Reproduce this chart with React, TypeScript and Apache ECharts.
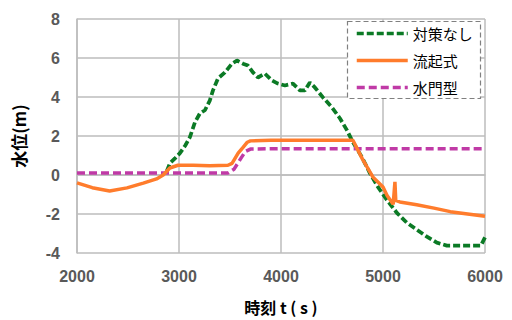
import React, { useEffect, useRef } from "react";
import * as echarts from "echarts";

const seriesNames = ["対策なし", "流起式", "水門型"];

const tNone = [2880, 2911, 2960, 3009, 3060, 3107, 3156, 3205, 3254, 3303, 3333, 3382, 3450, 3519, 3568, 3627, 3676, 3725, 3774, 3842, 3911, 3970, 4038, 4117, 4185, 4234, 4283, 4332, 4411, 4499, 4577, 4646, 4705, 4793, 4871, 4950, 5038, 5136, 5234, 5332, 5430, 5528, 5626, 5750, 5850, 5960, 6000];
const vNone = [0.2, 0.6, 0.85, 1.12, 1.5, 1.94, 2.7, 3.16, 3.32, 3.83, 4.34, 4.95, 5.26, 5.71, 5.87, 5.71, 5.61, 5.26, 5.0, 5.2, 4.85, 4.69, 4.59, 4.69, 4.34, 4.34, 4.74, 4.49, 3.98, 3.47, 2.91, 2.3, 1.68, 0.92, 0.1, -0.61, -1.28, -1.94, -2.45, -2.81, -3.16, -3.47, -3.62, -3.62, -3.62, -3.62, -3.2];

const tFlow = [2000, 2150, 2320, 2490, 2650, 2780, 2845, 2910, 2990, 3140, 3300, 3480, 3520, 3580, 3630, 3670, 3700, 3900, 4200, 4500, 4705, 4800, 4900, 5000, 5040, 5100, 5117, 5125, 5165, 5330, 5500, 5660, 5830, 6000];
const vFlow = [-0.4, -0.65, -0.82, -0.66, -0.42, -0.2, 0, 0.36, 0.5, 0.5, 0.48, 0.5, 0.6, 1.12, 1.43, 1.68, 1.75, 1.78, 1.78, 1.78, 1.78, 0.8, -0.1, -0.62, -1.05, -1.5, -0.35, -1.3, -1.38, -1.53, -1.7, -1.88, -2.0, -2.12];

const tGate = [2000, 2500, 3000, 3480, 3540, 3600, 3650, 3700, 4000, 5000, 6000];
const vGate = [0.1, 0.1, 0.1, 0.1, 0.3, 0.8, 1.2, 1.33, 1.35, 1.35, 1.35];

const xTicks = [2000, 3000, 4000, 5000, 6000];
const yTicks = [-4, -2, 0, 2, 4, 6, 8];

const zip = (t: number[], v: number[]) => t.map((x, i) => [x, v[i]]);

export default function App() {
  const ref = useRef<HTMLDivElement>(null);
  useEffect(() => {
    if (!ref.current) return;
    const chart = echarts.init(ref.current, null, { renderer: "svg" });
    const gridColor = "#bdbdbd";
    const tickFont = {
      fontFamily: "Liberation Sans, Arial, sans-serif",
      fontWeight: "bold" as const,
      fontSize: 16,
      color: "#595959",
    };
    chart.setOption({
      animation: false,
      backgroundColor: "#ffffff",
      grid: { left: 77, right: 27, top: 19, bottom: 65, containLabel: false },
      xAxis: {
        type: "value",
        min: xTicks[0],
        max: xTicks[xTicks.length - 1],
        interval: 1000,
        name: "時刻 t ( s )",
        nameLocation: "middle",
        nameGap: 46,
        nameTextStyle: {
          fontFamily: "Noto Sans CJK JP, sans-serif",
          fontWeight: "bold",
          fontSize: 16,
          color: "#000",
        },
        axisLine: { show: true, lineStyle: { color: gridColor, width: 1.5 } },
        axisTick: { show: false },
        axisLabel: { ...tickFont, margin: 15, formatter: (v: number) => String(v) },
        splitLine: { show: true, lineStyle: { color: gridColor, width: 1.5 } },
      },
      yAxis: {
        type: "value",
        min: yTicks[0],
        max: yTicks[yTicks.length - 1],
        interval: 2,
        name: "水位(m)",
        nameLocation: "middle",
        nameRotate: 90,
        nameGap: 50,
        nameTextStyle: {
          fontFamily: "Noto Sans CJK JP, sans-serif",
          fontWeight: "bold",
          fontSize: 17,
          color: "#000",
        },
        axisLine: { show: true, lineStyle: { color: gridColor, width: 1.5 } },
        axisTick: { show: false },
        axisLabel: { ...tickFont, margin: 17, formatter: (v: number) => String(v) },
        splitLine: { show: true, lineStyle: { color: gridColor, width: 1.5 } },
      },
      legend: {
        orient: "vertical",
        left: 355,
        top: 26,
        padding: 0,
        itemWidth: 51,
        itemHeight: 14,
        itemGap: 12,
        data: seriesNames,
        itemStyle: { opacity: 0 },
        lineStyle: { width: 3.5 },
        textStyle: {
          fontFamily: "Noto Sans CJK JP, sans-serif",
          fontSize: 15,
          color: "#000",
          lineHeight: 14,
          padding: [0, 0, 0, 0],
        },
        z: 10,
      },
      graphic: [
        {
          type: "rect",
          shape: { x: 347.5, y: 21.5, width: 133, height: 77 },
          style: { fill: "#ffffff", stroke: "#808080", lineWidth: 1.2, lineDash: [5, 3] },
          z: 5,
        },
      ],
      series: [
        {
          name: seriesNames[0],
          type: "line",
          data: zip(tNone, vNone),
          showSymbol: false,
          symbol: "none",
          lineStyle: { color: "#0b7a25", width: 3.75, type: [7, 3] },
          itemStyle: { color: "#0b7a25" },
          z: 2,
        },
        {
          name: seriesNames[1],
          type: "line",
          data: zip(tFlow, vFlow),
          showSymbol: false,
          symbol: "none",
          lineStyle: { color: "#ff7c2c", width: 3.5 },
          itemStyle: { color: "#ff7c2c" },
          z: 3,
        },
        {
          name: seriesNames[2],
          type: "line",
          data: zip(tGate, vGate),
          showSymbol: false,
          symbol: "none",
          lineStyle: { color: "#c03aa6", width: 3.5, type: [8, 4] },
          itemStyle: { color: "#c03aa6" },
          z: 2,
        },
      ],
    });
    return () => chart.dispose();
  }, []);
  return <div ref={ref} style={{ width: 512, height: 320, position: "absolute", left: 0, top: 0 }} />;
}
